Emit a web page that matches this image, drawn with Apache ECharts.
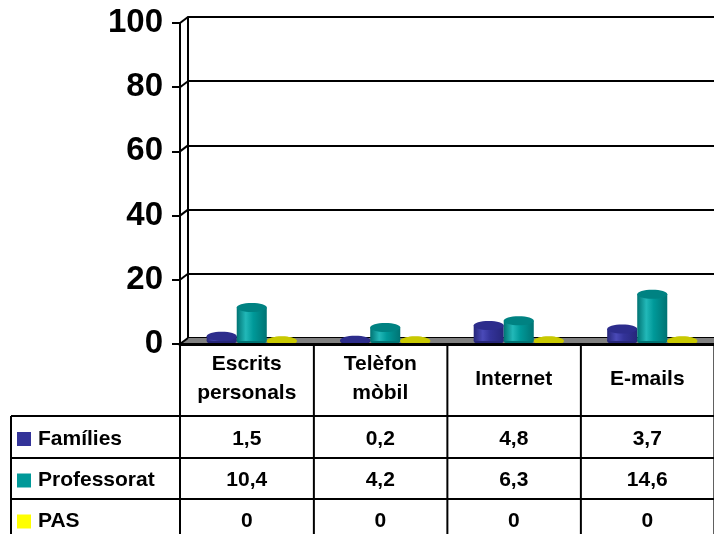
<!DOCTYPE html>
<html>
<head>
<meta charset="utf-8">
<script src="https://cdn.jsdelivr.net/npm/echarts@6/dist/echarts.min.js"></script>
<style>
    html, body { margin: 0; padding: 0; background: #fff; }
    #grafico { width: 714px; height: 534px; }
</style>
</head>
<body>
<div id="grafico"></div>
<script>
var categorias = ['Escrits\npersonals', 'Telèfon\nmòbil', 'Internet', 'E-mails'];
var nombres_series = ['Famílies', 'Professorat', 'PAS'];
var familias = [1.5, 0.2, 4.8, 3.7];
var professorat = [10.4, 4.2, 6.3, 14.6];
var pas = [0, 0, 0, 0];
var ticks_y = [0, 20, 40, 60, 80, 100];

var valores = [familias, professorat, pas];
// cuerpo, claro, oscuro, tapa
var colores = [
    ['#333399', '#4a4ab8', '#26267a', '#2d2d8c'],
    ['#009999', '#22b8b8', '#007373', '#008282'],
    ['#ffff00', '#ffff66', '#bdbd00', '#c9c900']
];
var fuente = '"Liberation Sans", Arial, sans-serif';

var myChart01 = echarts.init(document.getElementById('grafico'));

function render_cilindro(n) {
    return function (params, api) {
        var idx = api.value(0);
        var base = api.coord([idx, 0]);
        var tope = api.coord([idx, api.value(1)]);
        var banda = api.size([1, 0])[0];
        var ancho = banda * 0.225;
        var cx = base[0] + 5 + (n - 1) * ancho;
        var yb = base[1] - 3;
        var yt = tope[1] - 3;
        var ry = 4.5;
        var c = colores[n];
        var hijos = [
            { type: 'ellipse', shape: { cx: cx, cy: yb, rx: ancho / 2, ry: ry }, style: { fill: c[2] } }
        ];
        if (yb - yt > 0.5) {
            hijos.push({
                type: 'rect',
                shape: { x: cx - ancho / 2, y: yt, width: ancho, height: yb - yt },
                style: {
                    fill: new echarts.graphic.LinearGradient(0, 0, 1, 0, [
                        { offset: 0, color: c[2] },
                        { offset: 0.3, color: c[1] },
                        { offset: 0.55, color: c[0] },
                        { offset: 1, color: c[2] }
                    ])
                }
            });
        }
        hijos.push({ type: 'ellipse', shape: { cx: cx, cy: yt, rx: ancho / 2, ry: ry }, style: { fill: c[3] } });
        return { type: 'group', children: hijos };
    };
}

var colecciones = [];
for (var s = 0; s < valores.length; s++) {
    var data = [];
    for (var i = 0; i < categorias.length; i++) {
        data.push([i, valores[s][i]]);
    }
    colecciones.push({
        name: nombres_series[s],
        type: 'custom',
        xAxisIndex: 0,
        yAxisIndex: 0,
        z: 5,
        clip: false,
        renderItem: render_cilindro(s),
        encode: { x: 0, y: 1 },
        data: data
    });
}

option = {
    animation: false,
    grid: [
        { left: 180, top: 23, width: 537, height: 321 },
        { left: 188, top: 17, width: 537, height: 321 }
    ],
    xAxis: [
        {
            type: 'category', gridIndex: 0, data: categorias, z: 10,
            axisLine: { lineStyle: { color: '#000', width: 3 } },
            axisTick: { show: false },
            axisLabel: {
                color: '#000', fontFamily: fuente, fontWeight: 'bold', fontSize: 21,
                lineHeight: 29, margin: 35, verticalAlign: 'middle', interval: 0
            }
        },
        {
            type: 'category', gridIndex: 1, data: categorias,
            axisLine: { show: false }, axisTick: { show: false }, axisLabel: { show: false }
        }
    ],
    yAxis: [
        {
            type: 'value', gridIndex: 0, min: 0, max: 100, interval: 20, z: 10,
            axisLine: { show: true, lineStyle: { color: '#000', width: 2 } },
            axisTick: { show: true, length: 8, lineStyle: { color: '#000', width: 2 } },
            axisLabel: { color: '#000', fontFamily: fuente, fontWeight: 'bold', fontSize: 33, margin: 17 },
            splitLine: { show: false }
        },
        {
            type: 'value', gridIndex: 1, min: 0, max: 100, interval: 20,
            axisLine: { show: true, lineStyle: { color: '#000', width: 2 } },
            axisTick: { show: false },
            axisLabel: { show: false },
            splitLine: { show: true, lineStyle: { color: '#000', width: 2 } }
        }
    ],
    series: colecciones
};

myChart01.setOption(option, true);

// piso, uniones 3D y tabla de datos
var elementos = [];
var y0 = myChart01.convertToPixel({ yAxisIndex: 0 }, 0);
var x_izq = 180;
var x_der = 180 + 537;
elementos.push({
    type: 'polygon', z: 1,
    shape: { points: [[x_izq, y0 - 1], [x_izq + 8, y0 - 6], [x_der + 8, y0 - 6], [x_der, y0 - 1]] },
    style: { fill: '#808080' }
});
for (var t of ticks_y) {
    var yt = myChart01.convertToPixel({ yAxisIndex: 0 }, t);
    elementos.push({
        type: 'line', z: 12,
        shape: { x1: x_izq, y1: yt, x2: x_izq + 8, y2: yt - 6 },
        style: { stroke: '#000', lineWidth: 2 }
    });
}

var filas = [416, 458, 499, 540];
var linea = { stroke: '#000', lineWidth: 2 };
for (var f = 0; f < 3; f++) {
    elementos.push({ type: 'line', shape: { x1: 11, y1: filas[f], x2: x_der, y2: filas[f] }, style: linea });
}
elementos.push({ type: 'line', shape: { x1: 11, y1: filas[0], x2: 11, y2: 540 }, style: linea });
elementos.push({ type: 'line', shape: { x1: x_izq, y1: y0, x2: x_izq, y2: 540 }, style: linea });

var banda = 537 / categorias.length;
for (var i = 0; i < categorias.length; i++) {
    var cx = myChart01.convertToPixel({ xAxisIndex: 0 }, i);
    elementos.push({ type: 'line', shape: { x1: cx + banda / 2, y1: y0, x2: cx + banda / 2, y2: 540 }, style: linea });
    for (var s = 0; s < valores.length; s++) {
        elementos.push({
            type: 'text',
            style: {
                text: String(valores[s][i]).replace('.', ','),
                x: cx, y: (filas[s] + filas[s + 1]) / 2 + 2,
                fill: '#000', font: 'bold 21px ' + fuente,
                align: 'center', verticalAlign: 'middle',
                textAlign: 'center', textVerticalAlign: 'middle'
            }
        });
    }
}

for (var s = 0; s < nombres_series.length; s++) {
    var yc = (filas[s] + filas[s + 1]) / 2 + 2;
    elementos.push({
        type: 'rect',
        shape: { x: 17, y: yc - 7, width: 14, height: 14 },
        style: { fill: colores[s][0] }
    });
    elementos.push({
        type: 'text',
        style: {
            text: nombres_series[s], x: 38, y: yc,
            fill: '#000', font: 'bold 21px ' + fuente,
            align: 'left', verticalAlign: 'middle',
            textAlign: 'left', textVerticalAlign: 'middle'
        }
    });
}

myChart01.setOption({ graphic: { elements: elementos } });
</script>
</body>
</html>
